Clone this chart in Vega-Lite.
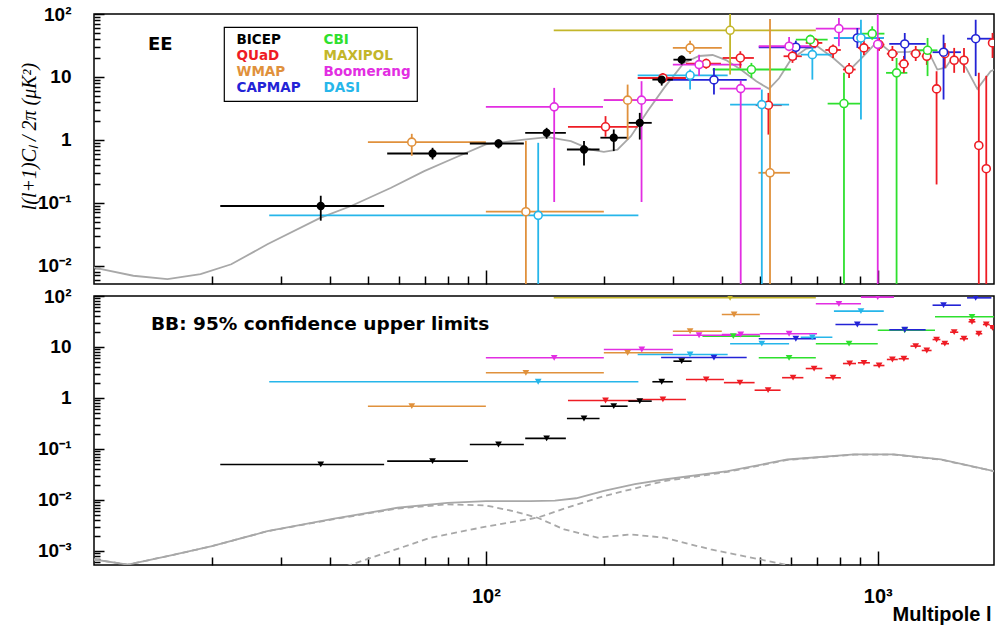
{
"$schema":"https://vega.github.io/schema/vega-lite/v6.json",
"background":"white",
"padding":{"left":18,"top":4,"right":5,"bottom":5},
"spacing":12,
"bounds":"flush",
"config":{"view":{"stroke":"black","strokeWidth":1.5},"font":"Liberation Sans",
 "axis":{"grid":false,"domain":false,"tickColor":"black","tickWidth":1.5,"labelFont":"Liberation Sans","labelFontWeight":"bold","labelColor":"black","labelOverlap":false,"labelFlush":false}},
"datasets":{
"eeTheory":[{"l":10,"v":0.0093},{"l":12.6,"v":0.0069},{"l":15.4,"v":0.0061},{"l":18.7,"v":0.0073},{"l":22.4,"v":0.0105},{"l":27.7,"v":0.0218},{"l":37.9,"v":0.0578},{"l":45.3,"v":0.0887},{"l":57.3,"v":0.173},{"l":69.6,"v":0.318},{"l":81.4,"v":0.486},{"l":100,"v":0.844},{"l":125,"v":1.01},{"l":143.7,"v":1.1},{"l":164.8,"v":0.95},{"l":185.4,"v":0.7},{"l":200,"v":0.645},{"l":216.7,"v":0.7},{"l":234.5,"v":1.14},{"l":258.5,"v":2.85},{"l":285,"v":6.69},{"l":320,"v":16.7},{"l":350,"v":21.5},{"l":379,"v":22.3},{"l":410,"v":18.5},{"l":447,"v":13.1},{"l":490,"v":8.5},{"l":528,"v":6.45},{"l":560,"v":9.5},{"l":600,"v":18.8},{"l":655,"v":27.8},{"l":701,"v":30.7},{"l":770,"v":20},{"l":842,"v":12.3},{"l":921,"v":21.5},{"l":998,"v":36.8},{"l":1079,"v":24.7},{"l":1200,"v":25},{"l":1340,"v":27.1},{"l":1419,"v":13.1},{"l":1490,"v":14},{"l":1563,"v":21.8},{"l":1680,"v":14},{"l":1795,"v":6.45},{"l":1942,"v":12.3},{"l":1980,"v":13}],
"ee":[
{"exp":"QUaD","l":202,"lmin":162,"lmax":244,"v":1.61,"vlo":1.12,"vhi":2.38},
{"exp":"QUaD","l":283,"lmin":244,"lmax":324,"v":9.6,"vlo":8.0,"vhi":11.5},
{"exp":"QUaD","l":365,"lmin":324,"lmax":398,"v":16.3,"vlo":13.5,"vhi":19.5},
{"exp":"QUaD","l":446,"lmin":402,"lmax":483,"v":20.0,"vlo":13.9,"vhi":25.6},
{"exp":"QUaD","l":526,"lmin":488,"lmax":569,"v":3.55,"vlo":1.21,"vhi":5.57},
{"exp":"QUaD","l":606,"lmin":575,"lmax":640,"v":21.3,"vlo":16.7,"vhi":25.9},
{"exp":"QUaD","l":688,"lmin":655,"lmax":722,"v":34.7,"vlo":28.9,"vhi":41.6},
{"exp":"QUaD","l":769,"lmin":735,"lmax":805,"v":26.8,"vlo":20.0,"vhi":32.6},
{"exp":"QUaD","l":845,"lmin":815,"lmax":878,"v":13.1,"vlo":9.64,"vhi":16.7},
{"exp":"QUaD","l":922,"lmin":890,"lmax":955,"v":28.9,"vlo":22.3,"vhi":37.3},
{"exp":"QUaD","l":1008,"lmin":975,"lmax":1040,"v":32.6,"vlo":25.9,"vhi":41.6},
{"exp":"QUaD","l":1090,"lmin":1055,"lmax":1125,"v":23.4,"vlo":17.9,"vhi":31},
{"exp":"QUaD","l":1166,"lmin":1130,"lmax":1200,"v":16.1,"vlo":11.6,"vhi":21.5},
{"exp":"QUaD","l":1250,"lmin":1212,"lmax":1288,"v":23.4,"vlo":17.9,"vhi":31},
{"exp":"QUaD","l":1334,"lmin":1295,"lmax":1372,"v":21.3,"vlo":15.5,"vhi":28.9},
{"exp":"QUaD","l":1413,"lmin":1380,"lmax":1445,"v":6.45,"vlo":0.195,"vhi":12.3},
{"exp":"QUaD","l":1483,"lmin":1450,"lmax":1520,"v":23.4,"vlo":13.9,"vhi":34.6},
{"exp":"QUaD","l":1567,"lmin":1530,"lmax":1605,"v":18.4,"vlo":11.6,"vhi":28.9},
{"exp":"QUaD","l":1660,"lmin":1620,"lmax":1700,"v":18.4,"vlo":11.6,"vhi":28.9},
{"exp":"QUaD","l":1811,"lmin":1775,"lmax":1850,"v":0.813,"vlo":0.001,"vhi":11.6},
{"exp":"QUaD","l":1892,"lmin":1855,"lmax":1930,"v":0.347,"vlo":0.001,"vhi":10.4},
{"exp":"QUaD","l":1963,"lmin":1935,"lmax":1990,"v":34.7,"vlo":20,"vhi":50},
{"exp":"WMAP","l":64.7,"lmin":50,"lmax":100,"v":0.918,"vlo":0.557,"vhi":1.245},
{"exp":"WMAP","l":126.5,"lmin":100,"lmax":200,"v":0.0719,"vlo":0.001,"vhi":0.964},
{"exp":"WMAP","l":230,"lmin":200,"lmax":300,"v":4.27,"vlo":1.01,"vhi":7.55},
{"exp":"WMAP","l":332,"lmin":300,"lmax":400,"v":28.9,"vlo":23.2,"vhi":37.7},
{"exp":"WMAP","l":531,"lmin":496,"lmax":597,"v":0.299,"vlo":0.001,"vhi":83.3},
{"exp":"CAPMAP","l":382,"lmin":280,"lmax":463,"v":8.96,"vlo":5.24,"vhi":13.9},
{"exp":"CAPMAP","l":618,"lmin":497,"lmax":695,"v":29.6,"vlo":18.8,"vhi":37.7},
{"exp":"CAPMAP","l":887,"lmin":773,"lmax":1036,"v":41.6,"vlo":28.9,"vhi":59.9},
{"exp":"CAPMAP","l":1172,"lmin":1070,"lmax":1325,"v":33.4,"vlo":18.8,"vhi":49.9},
{"exp":"CAPMAP","l":1472,"lmin":1380,"lmax":1630,"v":24.7,"vlo":4.37,"vhi":46.9},
{"exp":"CAPMAP","l":1778,"lmin":1690,"lmax":1950,"v":40.5,"vlo":10.3,"vhi":81},
{"exp":"CBI","l":476,"lmin":379,"lmax":600,"v":13.1,"vlo":9.64,"vhi":16.7},
{"exp":"CBI","l":673,"lmin":618,"lmax":745,"v":39.1,"vlo":30.7,"vhi":46.9},
{"exp":"CBI","l":820,"lmin":745,"lmax":906,"v":3.77,"vlo":0.001,"vhi":11.6},
{"exp":"CBI","l":968,"lmin":906,"lmax":1040,"v":48.7,"vlo":39.0,"vhi":63.7},
{"exp":"CBI","l":1117,"lmin":1050,"lmax":1190,"v":11.6,"vlo":0.001,"vhi":20},
{"exp":"CBI","l":1340,"lmin":1260,"lmax":1420,"v":26.5,"vlo":10.3,"vhi":41.6},
{"exp":"MAXIPOL","l":420,"lmin":149,"lmax":695,"v":55.1,"vlo":10.9,"vhi":500},
{"exp":"Boomerang","l":149.4,"lmin":100,"lmax":199,"v":3.34,"vlo":0.1026,"vhi":6.69},
{"exp":"Boomerang","l":249.6,"lmin":200,"lmax":300,"v":4.27,"vlo":0.1026,"vhi":8.55},
{"exp":"Boomerang","l":350,"lmin":300,"lmax":450,"v":15.7,"vlo":10.3,"vhi":22.6},
{"exp":"Boomerang","l":447,"lmin":395,"lmax":503,"v":6.52,"vlo":0.001,"vhi":8.65},
{"exp":"Boomerang","l":594,"lmin":497,"lmax":700,"v":30.7,"vlo":25.6,"vhi":43.2},
{"exp":"Boomerang","l":796,"lmin":695,"lmax":906,"v":58.5,"vlo":30.7,"vhi":86.4},
{"exp":"Boomerang","l":1000,"lmin":990,"lmax":1010,"v":33,"vlo":0.001,"vhi":500},
{"exp":"DASI","l":136,"lmin":28,"lmax":245,"v":0.0629,"vlo":0.001,"vhi":0.896},
{"exp":"DASI","l":332,"lmin":244,"lmax":414,"v":10.6,"vlo":6.3,"vhi":13.06},
{"exp":"DASI","l":506,"lmin":420,"lmax":594,"v":3.63,"vlo":0.001,"vhi":6.3},
{"exp":"DASI","l":681,"lmin":636,"lmax":766,"v":22.6,"vlo":9.05,"vhi":30.7},
{"exp":"DASI","l":906,"lmin":773,"lmax":1036,"v":41.6,"vlo":2.1,"vhi":81},
{"exp":"BICEP","l":37.9,"lmin":21,"lmax":55,"v":0.0887,"vlo":0.0518,"vhi":0.129},
{"exp":"BICEP","l":73.1,"lmin":56,"lmax":90,"v":0.606,"vlo":0.487,"vhi":0.746},
{"exp":"BICEP","l":107.7,"lmin":91,"lmax":125,"v":0.874,"vlo":0.728,"vhi":1.01},
{"exp":"BICEP","l":142.9,"lmin":126,"lmax":160,"v":1.29,"vlo":1.04,"vhi":1.55},
{"exp":"BICEP","l":178,"lmin":161,"lmax":195,"v":0.701,"vlo":0.391,"vhi":0.953},
{"exp":"BICEP","l":212,"lmin":196,"lmax":230,"v":1.08,"vlo":0.662,"vhi":1.46},
{"exp":"BICEP","l":247,"lmin":231,"lmax":265,"v":1.86,"vlo":1.01,"vhi":2.68},
{"exp":"BICEP","l":281,"lmin":266,"lmax":300,"v":9.06,"vlo":7.28,"vhi":11.2},
{"exp":"BICEP","l":316,"lmin":301,"lmax":335,"v":18.8,"vlo":15.7,"vhi":21.8}
],
"bbTheory":[
{"comp":"total","l":10,"v":0.00068},{"comp":"total","l":12.2,"v":0.00054},{"comp":"total","l":15.4,"v":0.00079},{"comp":"total","l":20,"v":0.00124},{"comp":"total","l":27.7,"v":0.00244},{"comp":"total","l":41,"v":0.0043},{"comp":"total","l":59.5,"v":0.00703},{"comp":"total","l":79.8,"v":0.0088},{"comp":"total","l":100,"v":0.0095},{"comp":"total","l":130,"v":0.0095},{"comp":"total","l":150,"v":0.0097},{"comp":"total","l":170,"v":0.0108},{"comp":"total","l":200,"v":0.0150},{"comp":"total","l":240,"v":0.0205},{"comp":"total","l":285,"v":0.0252},{"comp":"total","l":414,"v":0.0367},{"comp":"total","l":588,"v":0.0622},{"comp":"total","l":871,"v":0.078},{"comp":"total","l":1100,"v":0.078},{"comp":"total","l":1449,"v":0.0622},{"comp":"total","l":1980,"v":0.0367},
{"comp":"tensor","l":10,"v":0.00068},{"comp":"tensor","l":12.2,"v":0.00054},{"comp":"tensor","l":15.4,"v":0.00079},{"comp":"tensor","l":20,"v":0.00124},{"comp":"tensor","l":27.7,"v":0.00244},{"comp":"tensor","l":41,"v":0.0042},{"comp":"tensor","l":59.5,"v":0.0068},{"comp":"tensor","l":79.8,"v":0.0082},{"comp":"tensor","l":100,"v":0.0078},{"comp":"tensor","l":118,"v":0.006},{"comp":"tensor","l":135.5,"v":0.00448},{"comp":"tensor","l":158.5,"v":0.00264},{"comp":"tensor","l":192.7,"v":0.00182},{"comp":"tensor","l":234.5,"v":0.00211},{"comp":"tensor","l":285,"v":0.00182},{"comp":"tensor","l":375,"v":0.00107},{"comp":"tensor","l":502,"v":0.00068},{"comp":"tensor","l":611,"v":0.0005},
{"comp":"lensing","l":44,"v":0.0005},{"comp":"lensing","l":50,"v":0.0007},{"comp":"lensing","l":72,"v":0.0018},{"comp":"lensing","l":100,"v":0.003},{"comp":"lensing","l":135.5,"v":0.0045},{"comp":"lensing","l":165,"v":0.0075},{"comp":"lensing","l":200,"v":0.0119},{"comp":"lensing","l":285,"v":0.0234},{"comp":"lensing","l":414,"v":0.0355},{"comp":"lensing","l":588,"v":0.061},{"comp":"lensing","l":871,"v":0.0775},{"comp":"lensing","l":1100,"v":0.0775},{"comp":"lensing","l":1449,"v":0.0615},{"comp":"lensing","l":1980,"v":0.0365}
],
"bb":[
{"exp":"CBI","l":428,"lmin":357,"lmax":501,"v":16.3},
{"exp":"CBI","l":594,"lmin":497,"lmax":695,"v":6.14},
{"exp":"CBI","l":845,"lmin":695,"lmax":1000,"v":11.6},
{"exp":"CBI","l":1172,"lmin":1000,"lmax":1400,"v":21.3},
{"exp":"CBI","l":1740,"lmin":1400,"lmax":1990,"v":39.1},
{"exp":"MAXIPOL","l":420,"lmin":149,"lmax":695,"v":92.2},
{"exp":"WMAP","l":64.7,"lmin":50,"lmax":100,"v":0.69},
{"exp":"WMAP","l":126.5,"lmin":100,"lmax":200,"v":3.12},
{"exp":"WMAP","l":230,"lmin":200,"lmax":300,"v":7.69},
{"exp":"WMAP","l":332,"lmin":300,"lmax":400,"v":20.4},
{"exp":"WMAP","l":430,"lmin":400,"lmax":500,"v":43.4},
{"exp":"Boomerang","l":149.4,"lmin":100,"lmax":200,"v":6.14},
{"exp":"Boomerang","l":250,"lmin":200,"lmax":300,"v":8.93},
{"exp":"Boomerang","l":350,"lmin":300,"lmax":450,"v":17.0},
{"exp":"Boomerang","l":447,"lmin":400,"lmax":500,"v":17.6},
{"exp":"Boomerang","l":594,"lmin":500,"lmax":700,"v":18.2},
{"exp":"Boomerang","l":796,"lmin":695,"lmax":906,"v":70.3},
{"exp":"Boomerang","l":1000,"lmin":906,"lmax":1100,"v":95},
{"exp":"DASI","l":136,"lmin":28,"lmax":245,"v":2.08},
{"exp":"DASI","l":332,"lmin":244,"lmax":414,"v":7.13},
{"exp":"DASI","l":506,"lmin":420,"lmax":594,"v":11.6},
{"exp":"DASI","l":681,"lmin":636,"lmax":766,"v":15.5},
{"exp":"DASI","l":906,"lmin":773,"lmax":1036,"v":50.4},
{"exp":"CAPMAP","l":382,"lmin":280,"lmax":463,"v":6.2},
{"exp":"CAPMAP","l":618,"lmin":497,"lmax":695,"v":14.5},
{"exp":"CAPMAP","l":887,"lmin":780,"lmax":1000,"v":27.6},
{"exp":"CAPMAP","l":1172,"lmin":1070,"lmax":1325,"v":21.8},
{"exp":"CAPMAP","l":1472,"lmin":1380,"lmax":1630,"v":66},
{"exp":"CAPMAP","l":1778,"lmin":1690,"lmax":1950,"v":92},
{"exp":"QUaD","l":202,"lmin":162,"lmax":244,"v":0.893},
{"exp":"QUaD","l":283,"lmin":244,"lmax":324,"v":0.935},
{"exp":"QUaD","l":365,"lmin":324,"lmax":405,"v":2.31},
{"exp":"QUaD","l":445,"lmin":405,"lmax":485,"v":2.0},
{"exp":"QUaD","l":525,"lmin":485,"lmax":565,"v":1.42},
{"exp":"QUaD","l":608,"lmin":570,"lmax":646,"v":2.5},
{"exp":"QUaD","l":688,"lmin":655,"lmax":722,"v":3.78},
{"exp":"QUaD","l":769,"lmin":735,"lmax":805,"v":2.49},
{"exp":"QUaD","l":848,"lmin":815,"lmax":880,"v":4.74},
{"exp":"QUaD","l":922,"lmin":890,"lmax":955,"v":4.9},
{"exp":"QUaD","l":1008,"lmin":975,"lmax":1040,"v":4.33},
{"exp":"QUaD","l":1090,"lmin":1055,"lmax":1125,"v":5.69},
{"exp":"QUaD","l":1166,"lmin":1130,"lmax":1200,"v":5.88},
{"exp":"QUaD","l":1250,"lmin":1212,"lmax":1288,"v":10.4},
{"exp":"QUaD","l":1334,"lmin":1295,"lmax":1372,"v":8.54},
{"exp":"QUaD","l":1413,"lmin":1380,"lmax":1445,"v":14.0},
{"exp":"QUaD","l":1483,"lmin":1450,"lmax":1520,"v":11.6},
{"exp":"QUaD","l":1567,"lmin":1530,"lmax":1605,"v":19.5},
{"exp":"QUaD","l":1660,"lmin":1620,"lmax":1700,"v":14.5},
{"exp":"QUaD","l":1740,"lmin":1705,"lmax":1775,"v":31.2},
{"exp":"QUaD","l":1811,"lmin":1778,"lmax":1848,"v":18.2},
{"exp":"QUaD","l":1892,"lmin":1855,"lmax":1930,"v":27.6},
{"exp":"QUaD","l":1963,"lmin":1935,"lmax":1990,"v":23.7},
{"exp":"BICEP","l":37.9,"lmin":21,"lmax":55,"v":0.0497},
{"exp":"BICEP","l":73.1,"lmin":56,"lmax":90,"v":0.0577},
{"exp":"BICEP","l":107.7,"lmin":91,"lmax":125,"v":0.1225},
{"exp":"BICEP","l":142.9,"lmin":126,"lmax":160,"v":0.161},
{"exp":"BICEP","l":178,"lmin":161,"lmax":195,"v":0.396},
{"exp":"BICEP","l":212,"lmin":196,"lmax":230,"v":0.69},
{"exp":"BICEP","l":247,"lmin":231,"lmax":265,"v":0.867},
{"exp":"BICEP","l":281,"lmin":266,"lmax":300,"v":2.08},
{"exp":"BICEP","l":316,"lmin":301,"lmax":335,"v":5.27}
]
},
"vconcat":[
{
"width":900,"height":270,
"title":{"text":"EE","anchor":"start","frame":"group","dx":54,"offset":-63,"baseline":"alphabetic","fontSize":18,"font":"DejaVu Sans","fontWeight":"bold","color":"black"},
"layer":[
{"data":{"name":"eeTheory"},"mark":{"type":"line","color":"#a8a8a8","strokeWidth":1.8,"clip":true},
 "encoding":{
 "x":{"field":"l","type":"quantitative","scale":{"type":"log","domain":[10,1980],"nice":false},
  "axis":{"title":null,"labels":false,"values":[20,30,40,50,60,70,80,90,100,200,300,400,500,600,700,800,900,1000],"tickSize":{"condition":{"test":"datum.value == 100 || datum.value == 1000","value":-14},"value":-8}}},
 "y":{"field":"v","type":"quantitative","scale":{"type":"log","domain":[0.0051,100],"nice":false},
  "axis":{"values":[0.006,0.007,0.008,0.009,0.01,0.02,0.03,0.04,0.05,0.06,0.07,0.08,0.09,0.1,0.2,0.3,0.4,0.5,0.6,0.7,0.8,0.9,1,2,3,4,5,6,7,8,9,10,20,30,40,50,60,70,80,90,100],
   "labelExpr":"datum.value == 100 ? '10²' : datum.value == 10 ? '10' : datum.value == 1 ? '1' : datum.value == 0.1 ? '10⁻¹' : datum.value == 0.01 ? '10⁻²' : ''",
   "labelFontSize":19,"labelPadding":33,"labelBaseline":"middle",
   "tickSize":{"condition":{"test":"indexof([0.001,0.01,0.1,1,10,100], datum.value) >= 0","value":-10},"value":-6},
   "title":"l(l+1)Cₗ  /  2π    (μK²)","titleFont":"Liberation Serif","titleFontStyle":"italic","titleFontWeight":"normal","titleFontSize":20,"titleColor":"black","titleX":-65,"titleY":122,"titleAngle":-90,"titleAlign":"center","titleBaseline":"middle"}}}},
{"data":{"name":"ee"},"mark":{"type":"rule","strokeWidth":1.8,"clip":true},
 "encoding":{"x":{"field":"lmin","type":"quantitative","scale":{"type":"log","domain":[10,1980],"nice":false}},"x2":{"field":"lmax"},
 "y":{"field":"v","type":"quantitative","scale":{"type":"log","domain":[0.0051,100],"nice":false}},
 "color":{"field":"exp","type":"nominal","scale":{"domain":["BICEP","QUaD","WMAP","CAPMAP","CBI","MAXIPOL","Boomerang","DASI"],"range":["#000000","#ee1c24","#e0913c","#2323d6","#2ee02e","#c3b62a","#e22ee2","#26b6ea"]},
  "legend":{"title":null,"orient":"none","legendX":130,"legendY":13,"columns":2,"symbolSize":1,"symbolOpacity":0,"symbolStrokeWidth":0,"labelOffset":-7,"labelFont":"DejaVu Sans","labelFontSize":13.5,"labelFontWeight":"bold","rowPadding":1,"columnPadding":16,"padding":6,"strokeColor":"black","fillColor":"white","cornerRadius":0,"encode":{"legend":{"update":{"strokeWidth":{"value":1.2}}},"labels":{"update":{"fill":{"signal":"scale('color', datum.value)"}}}}}}}},
{"data":{"name":"ee"},"mark":{"type":"rule","strokeWidth":1.8,"clip":true},
 "encoding":{"x":{"field":"l","type":"quantitative","scale":{"type":"log","domain":[10,1980],"nice":false}},
 "y":{"field":"vlo","type":"quantitative","scale":{"type":"log","domain":[0.0051,100],"nice":false}},"y2":{"field":"vhi"},
 "color":{"field":"exp","type":"nominal","scale":{"domain":["BICEP","QUaD","WMAP","CAPMAP","CBI","MAXIPOL","Boomerang","DASI"],"range":["#000000","#ee1c24","#e0913c","#2323d6","#2ee02e","#c3b62a","#e22ee2","#26b6ea"]},
  "legend":{"title":null,"orient":"none","legendX":130,"legendY":13,"columns":2,"symbolSize":1,"symbolOpacity":0,"symbolStrokeWidth":0,"labelOffset":-7,"labelFont":"DejaVu Sans","labelFontSize":13.5,"labelFontWeight":"bold","rowPadding":1,"columnPadding":16,"padding":6,"strokeColor":"black","fillColor":"white","cornerRadius":0,"encode":{"legend":{"update":{"strokeWidth":{"value":1.2}}},"labels":{"update":{"fill":{"signal":"scale('color', datum.value)"}}}}}}}},
{"data":{"name":"ee"},"mark":{"type":"point","shape":"circle","filled":false,"strokeWidth":1.6,"opacity":1,"clip":true},
 "encoding":{"x":{"field":"l","type":"quantitative","scale":{"type":"log","domain":[10,1980],"nice":false}},
 "y":{"field":"v","type":"quantitative","scale":{"type":"log","domain":[0.0051,100],"nice":false}},
 "color":{"field":"exp","type":"nominal","scale":{"domain":["BICEP","QUaD","WMAP","CAPMAP","CBI","MAXIPOL","Boomerang","DASI"],"range":["#000000","#ee1c24","#e0913c","#2323d6","#2ee02e","#c3b62a","#e22ee2","#26b6ea"]},
  "legend":{"title":null,"orient":"none","legendX":130,"legendY":13,"columns":2,"symbolSize":1,"symbolOpacity":0,"symbolStrokeWidth":0,"labelOffset":-7,"labelFont":"DejaVu Sans","labelFontSize":13.5,"labelFontWeight":"bold","rowPadding":1,"columnPadding":16,"padding":6,"strokeColor":"black","fillColor":"white","cornerRadius":0,"encode":{"legend":{"update":{"strokeWidth":{"value":1.2}}},"labels":{"update":{"fill":{"signal":"scale('color', datum.value)"}}}}}},
 "fill":{"condition":{"test":"datum.exp === 'BICEP'","value":"black"},"value":"white"},
 "size":{"condition":{"test":"datum.exp === 'BICEP'","value":45},"value":64}}}
]
},
{
"width":900,"height":269,
"title":{"text":"BB: 95% confidence upper limits","anchor":"start","frame":"group","dx":57,"offset":-61,"baseline":"alphabetic","fontSize":18.5,"font":"DejaVu Sans","fontWeight":"bold","color":"black"},
"layer":[
{"data":{"name":"bbTheory"},"transform":[{"filter":"datum.comp === 'total'"}],"mark":{"type":"line","color":"#a8a8a8","strokeWidth":1.8,"clip":true},
 "encoding":{
 "x":{"field":"l","type":"quantitative","scale":{"type":"log","domain":[10,1980],"nice":false},
  "axis":{"values":[20,30,40,50,60,70,80,90,100,200,300,400,500,600,700,800,900,1000],"labelExpr":"datum.value == 100 ? '10²' : datum.value == 1000 ? '10³' : ''","labelFontSize":20,"labelPadding":35,
   "tickSize":{"condition":{"test":"datum.value == 100 || datum.value == 1000","value":-14},"value":-8},
   "title":"Multipole  l","titleFont":"Liberation Sans","titleFontWeight":"bold","titleFontSize":20,"titleColor":"black","titleAnchor":"end","titleAlign":"right","titleX":897,"titleY":55,"titleBaseline":"alphabetic"}},
 "y":{"field":"v","type":"quantitative","scale":{"type":"log","domain":[0.00053,100],"nice":false},
  "axis":{"values":[0.0006,0.0007,0.0008,0.0009,0.001,0.002,0.003,0.004,0.005,0.006,0.007,0.008,0.009,0.01,0.02,0.03,0.04,0.05,0.06,0.07,0.08,0.09,0.1,0.2,0.3,0.4,0.5,0.6,0.7,0.8,0.9,1,2,3,4,5,6,7,8,9,10,20,30,40,50,60,70,80,90,100],
   "labelExpr":"datum.value == 100 ? '10²' : datum.value == 10 ? '10' : datum.value == 1 ? '1' : datum.value == 0.1 ? '10⁻¹' : datum.value == 0.01 ? '10⁻²' : datum.value == 0.001 ? '10⁻³' : ''",
   "labelFontSize":19,"labelPadding":33,"labelBaseline":"middle","title":null,
   "tickSize":{"condition":{"test":"indexof([0.001,0.01,0.1,1,10,100], datum.value) >= 0","value":-10},"value":-6}}}}},
{"data":{"name":"bbTheory"},"transform":[{"filter":"datum.comp !== 'total'"}],"mark":{"type":"line","color":"#a8a8a8","strokeWidth":1.8,"strokeDash":[6,4],"clip":true},
 "encoding":{"x":{"field":"l","type":"quantitative","scale":{"type":"log","domain":[10,1980],"nice":false}},
 "y":{"field":"v","type":"quantitative","scale":{"type":"log","domain":[0.00053,100],"nice":false}},"detail":{"field":"comp"}}},
{"data":{"name":"bb"},"mark":{"type":"rule","strokeWidth":1.6,"clip":true},
 "encoding":{"x":{"field":"lmin","type":"quantitative","scale":{"type":"log","domain":[10,1980],"nice":false}},"x2":{"field":"lmax"},
 "y":{"field":"v","type":"quantitative","scale":{"type":"log","domain":[0.00053,100],"nice":false}},
 "color":{"field":"exp","type":"nominal","scale":{"domain":["BICEP","QUaD","WMAP","CAPMAP","CBI","MAXIPOL","Boomerang","DASI"],"range":["#000000","#ee1c24","#e0913c","#2323d6","#2ee02e","#c3b62a","#e22ee2","#26b6ea"]},
  "legend":{"title":null,"orient":"none","legendX":130,"legendY":13,"columns":2,"symbolSize":1,"symbolOpacity":0,"symbolStrokeWidth":0,"labelOffset":-7,"labelFont":"DejaVu Sans","labelFontSize":13.5,"labelFontWeight":"bold","rowPadding":1,"columnPadding":16,"padding":6,"strokeColor":"black","fillColor":"white","cornerRadius":0,"encode":{"legend":{"update":{"strokeWidth":{"value":1.2}}},"labels":{"update":{"fill":{"signal":"scale('color', datum.value)"}}}}}}}},
{"data":{"name":"bb"},"mark":{"type":"point","shape":"triangle-down","filled":true,"size":45,"opacity":1,"clip":true},
 "encoding":{"x":{"field":"l","type":"quantitative","scale":{"type":"log","domain":[10,1980],"nice":false}},
 "y":{"field":"v","type":"quantitative","scale":{"type":"log","domain":[0.00053,100],"nice":false}},
 "color":{"field":"exp","type":"nominal","scale":{"domain":["BICEP","QUaD","WMAP","CAPMAP","CBI","MAXIPOL","Boomerang","DASI"],"range":["#000000","#ee1c24","#e0913c","#2323d6","#2ee02e","#c3b62a","#e22ee2","#26b6ea"]},
  "legend":{"title":null,"orient":"none","legendX":130,"legendY":13,"columns":2,"symbolSize":1,"symbolOpacity":0,"symbolStrokeWidth":0,"labelOffset":-7,"labelFont":"DejaVu Sans","labelFontSize":13.5,"labelFontWeight":"bold","rowPadding":1,"columnPadding":16,"padding":6,"strokeColor":"black","fillColor":"white","cornerRadius":0,"encode":{"legend":{"update":{"strokeWidth":{"value":1.2}}},"labels":{"update":{"fill":{"signal":"scale('color', datum.value)"}}}}}}}}
]
}
]
}
